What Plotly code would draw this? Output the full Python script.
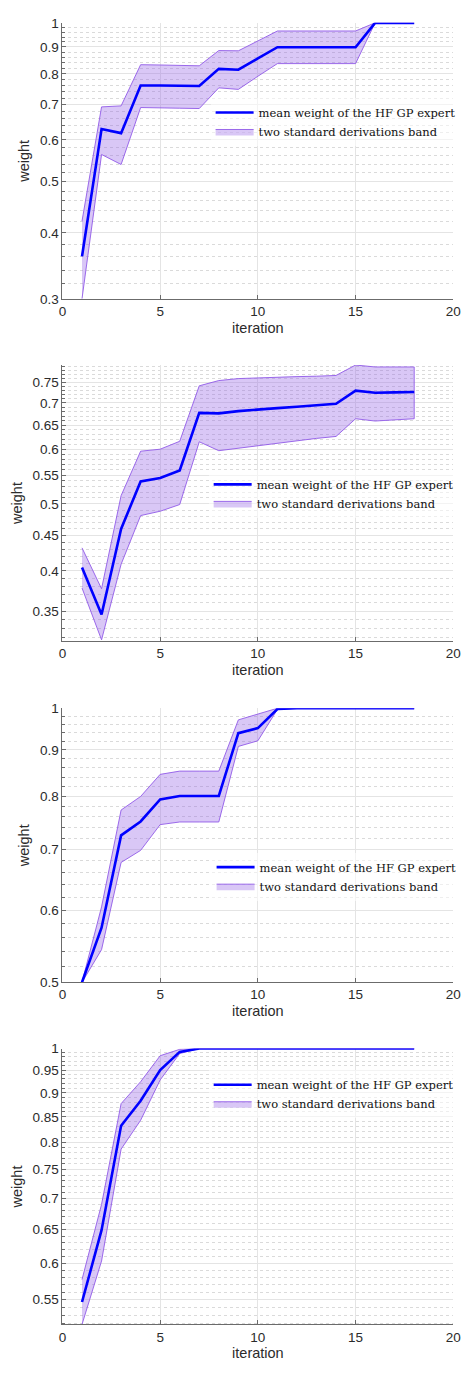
import plotly.graph_objects as go
import math

# ---------------- data ----------------
iterations = list(range(1, 19))

p1_mean = [0.361, 0.629, 0.618, 0.761, 0.761, 0.760, 0.759, 0.818, 0.815, 0.856, 0.899, 0.899, 0.899, 0.899, 0.899, 1.0, 1.0, 1.0]
p1_upper = [0.421, 0.693, 0.696, 0.833, 0.832, 0.830, 0.829, 0.886, 0.885, 0.924, 0.965, 0.965, 0.965, 0.965, 0.965, 1.0, 1.0, 1.0]
p1_lower = [0.300, 0.563, 0.539, 0.691, 0.690, 0.689, 0.688, 0.753, 0.748, 0.792, 0.837, 0.837, 0.837, 0.837, 0.837, 1.0, 1.0, 1.0]

p2_mean = [0.4045, 0.346, 0.460, 0.539, 0.545, 0.559, 0.677, 0.676, 0.681, 0.685, 0.688, 0.691, 0.695, 0.698, 0.729, 0.724, 0.725, 0.726]
p2_upper = [0.432, 0.377, 0.514, 0.596, 0.600, 0.616, 0.741, 0.754, 0.759, 0.761, 0.762, 0.764, 0.765, 0.767, 0.794, 0.789, 0.789, 0.789]
p2_lower = [0.378, 0.318, 0.409, 0.481, 0.488, 0.499, 0.615, 0.597, 0.603, 0.608, 0.613, 0.617, 0.622, 0.626, 0.664, 0.659, 0.661, 0.664]

p3_mean = [0.500, 0.574, 0.725, 0.751, 0.794, 0.801, 0.801, 0.801, 0.939, 0.951, 0.998, 1.0, 1.0, 1.0, 1.0, 1.0, 1.0, 1.0]
p3_upper = [0.500, 0.605, 0.773, 0.800, 0.846, 0.853, 0.853, 0.853, 0.971, 0.985, 1.0, 1.0, 1.0, 1.0, 1.0, 1.0, 1.0, 1.0]
p3_lower = [0.500, 0.543, 0.677, 0.698, 0.745, 0.750, 0.750, 0.750, 0.908, 0.921, 0.997, 1.0, 1.0, 1.0, 1.0, 1.0, 1.0, 1.0]

p4_mean = [0.547, 0.649, 0.832, 0.883, 0.950, 0.992, 1.0, 1.0, 1.0, 1.0, 1.0, 1.0, 1.0, 1.0, 1.0, 1.0, 1.0, 1.0]
p4_upper = [0.577, 0.690, 0.877, 0.924, 0.983, 0.998, 1.0, 1.0, 1.0, 1.0, 1.0, 1.0, 1.0, 1.0, 1.0, 1.0, 1.0, 1.0]
p4_lower = [0.5185, 0.603, 0.787, 0.843, 0.928, 0.988, 1.0, 1.0, 1.0, 1.0, 1.0, 1.0, 1.0, 1.0, 1.0, 1.0, 1.0, 1.0]

x_ticks = [0, 5, 10, 15, 20]
p1_yticks = [0.3, 0.4, 0.5, 0.6, 0.7, 0.8, 0.9, 1]
p2_yticks = [0.35, 0.4, 0.45, 0.5, 0.55, 0.6, 0.65, 0.7, 0.75]
p3_yticks = [0.5, 0.6, 0.7, 0.8, 0.9, 1]
p4_yticks = [0.55, 0.6, 0.65, 0.7, 0.75, 0.8, 0.85, 0.9, 0.95, 1]

p1_yrange = [0.3, 1.0]
p2_yrange = [0.3168, 0.794]
p3_yrange = [0.5, 1.0]
p4_yrange = [0.5185, 1.0]

mean_label = "mean weight of the HF GP expert"
band_label = "two standard derivations band"

# ---------------- figure ----------------
W, H = 472, 1374
x_dom = [60 / W, 461 / W]
panel_px = [(16, 295), (362, 641), (709, 986), (1053, 1332)]
legend_px = [(212, 92), (210, 468), (213, 855), (210, 1075)]

panels = [
    (p1_mean, p1_upper, p1_lower, p1_yticks, p1_yrange, 0.02),
    (p2_mean, p2_upper, p2_lower, p2_yticks, p2_yrange, 0.01),
    (p3_mean, p3_upper, p3_lower, p3_yticks, p3_yrange, 0.02),
    (p4_mean, p4_upper, p4_lower, p4_yticks, p4_yrange, 0.01),
]

AX = "#6b6b6b"
TXT = "#2b2b2b"
GRID = "#e4e4e4"
MINOR = "#dadada"
sans = "Liberation Sans, Arial, sans-serif"
tickfont = dict(family=sans, size=13.5, color=TXT)

fig = go.Figure()
layout = dict(
    width=W, height=H,
    margin=dict(l=0, r=0, t=0, b=0),
    paper_bgcolor="white", plot_bgcolor="white",
    showlegend=True,
)

for i, (mean, up, lo, yt, yr, mstep) in enumerate(panels, start=1):
    sfx = "" if i == 1 else str(i)
    lg = "legend" if i == 1 else f"legend{i}"
    xs = iterations
    fig.add_trace(go.Scatter(
        x=xs + xs[::-1], y=up + lo[::-1],
        fill="toself", fillcolor="rgba(150,100,230,0.36)",
        line=dict(color="rgb(145,90,232)", width=0.9),
        mode="lines", name=band_label, legend=lg, legendrank=2,
        xaxis="x" + sfx, yaxis="y" + sfx, hoverinfo="skip",
    ))
    fig.add_trace(go.Scatter(
        x=xs, y=mean, mode="lines",
        line=dict(color="#0000ff", width=2.6),
        name=mean_label, legend=lg, legendrank=1,
        xaxis="x" + sfx, yaxis="y" + sfx,
    ))
    top, bot = panel_px[i - 1]
    ydom = [1 - bot / H, 1 - top / H]
    lo_v, hi_v = yr
    minor_vals = []
    v = round(lo_v - (lo_v % mstep), 4)
    while v <= 1.0 + 1e-9:
        if v >= lo_v - 1e-9 and all(abs(v - t) > 1e-6 for t in yt):
            minor_vals.append(round(v, 4))
        v = round(v + mstep, 4)
    layout["xaxis" + sfx] = dict(
        domain=x_dom, anchor="y" + sfx, range=[0, 20],
        tickmode="array", tickvals=x_ticks, ticktext=[str(t) for t in x_ticks],
        showgrid=True, gridcolor=GRID, gridwidth=1, zeroline=False,
        showline=True, linecolor=AX, linewidth=1,
        ticks="inside", ticklen=4, tickcolor=AX,
        tickfont=tickfont,
        title=dict(text="iteration", font=dict(family=sans, size=14.5, color=TXT), standoff=4),
    )
    layout["yaxis" + sfx] = dict(
        domain=ydom, anchor="x" + sfx, type="log",
        range=[math.log10(lo_v), math.log10(hi_v)],
        tickmode="array", tickvals=yt, ticktext=[f"{t:g}" for t in yt],
        showgrid=True, gridcolor=GRID, gridwidth=1, zeroline=False,
        showline=True, linecolor=AX, linewidth=1,
        ticks="inside", ticklen=4, tickcolor=AX,
        tickfont=tickfont,
        minor=dict(tickmode="array", tickvals=minor_vals, showgrid=True,
                   gridcolor=MINOR, griddash="dot", gridwidth=1,
                   ticks="inside", ticklen=2.5, tickcolor=AX),
        title=dict(text="weight", font=dict(family=sans, size=14.5, color=TXT), standoff=6),
    )
    lx, ly = legend_px[i - 1]
    layout[lg] = dict(
        x=lx / W, y=1 - ly / H, xanchor="left", yanchor="top",
        bgcolor="rgba(255,255,255,0.55)", borderwidth=0,
        font=dict(family="DejaVu Serif, Liberation Serif, serif", size=11.5, color="#111111"),
        tracegroupgap=0, itemwidth=38,
    )

fig.update_layout(**layout)
fig.write_html("out.html")
